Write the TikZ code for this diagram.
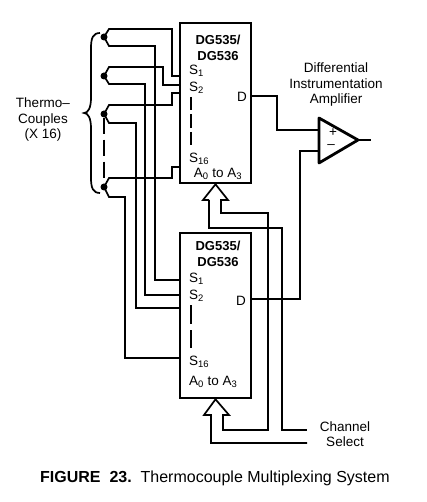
\documentclass[tikz,border=0pt]{standalone}
\usepackage{fontspec}
\setmainfont{Liberation Sans}
\usetikzlibrary{shapes.geometric}
\begin{document}
\begin{tikzpicture}[
    x=1pt, y=-1pt,
    muxbox/.style={rectangle, draw, line width=2.6pt, fill=white,
        minimum width=71pt, inner sep=0pt},
    junction/.style={circle, fill, inner sep=0pt, minimum size=7pt},
    wire/.style={line width=1.7pt, line join=miter},
    pin/.style={font=\fontsize{13.5}{15}\selectfont, anchor=west, inner sep=0pt},
    title/.style={font=\fontsize{13}{15.5}\selectfont\bfseries, align=center, inner sep=0pt},
    label/.style={font=\fontsize{13.5}{15}\selectfont, align=center, inner sep=0pt}
]
    \useasboundingbox (0,0) rectangle (426,502);

    % Multiplexers
    \node[muxbox, minimum height=160pt] (muxa) at (215.5,103) {};
    \node[muxbox, minimum height=165pt] (muxb) at (215.5,315.5) {};

    % Thermocouple junctions
    \node[junction] (tca) at (104,37) {};
    \node[junction] (tcb) at (104,76) {};
    \node[junction] (tcc) at (104,114) {};
    \node[junction] (tcd) at (104,187) {};

    % Inputs of the upper multiplexer
    \coordinate (aone) at (180,76);
    \coordinate (atwo) at (180,85);
    \coordinate (athree) at (180,93);
    \coordinate (asixteen) at (180,167);

    % Inputs of the lower multiplexer
    \coordinate (bone) at (180,280);
    \coordinate (btwo) at (180,295);
    \coordinate (bthree) at (180,308);
    \coordinate (bsixteen) at (180,358);

    % Leads
    \draw[wire] (tca.center) -- (109,29) -| (172,76) -- (aone);
    \draw[wire] (tca.center) -- (109,46) -| (155,280) -- (bone);
    \draw[wire] (tcb.center) -- (109,67) -| (163,85) -- (atwo);
    \draw[wire] (tcb.center) -- (109,84) -| (145,295) -- (btwo);
    \draw[wire] (tcc.center) -- (109,105) -| (172,93) -- (athree);
    \draw[wire] (tcc.center) -- (109,123) -| (136,308) -- (bthree);
    \draw[wire] (tcd.center) -- (109,178) -| (172,167) -- (asixteen);
    \draw[wire] (tcd.center) -- (109,197) -| (125,358) -- (bsixteen);
    \draw[wire, dash pattern=on 16pt off 6pt] (tcc) -- (tcd);

    % Brace
    \draw[wire] (100,33) .. controls (93,33) and (91,38) .. (91,48) -- (91,98)
        .. controls (91,108) and (88,113) .. (84,113)
        .. controls (88,113) and (91,118) .. (91,128) -- (91,178)
        .. controls (91,188) and (93,193) .. (100,193);
    \node[label] (tclabel) at (43,120) {Thermo--\\[1pt]Couples\\[0pt](X 16)};

    % Text of the upper multiplexer
    \node[title] (titlea) at (218,48) {DG535/\\DG536};
    \node[pin] (sonea) at (189,71) {S\textsubscript{1}};
    \node[pin] (stwoa) at (189,88) {S\textsubscript{2}};
    \node[pin] (ssixteena) at (189,159) {S\textsubscript{16}};
    \node[pin, anchor=center] (addra) at (218,174) {A\textsubscript{0} to A\textsubscript{3}};
    \node[pin] (da) at (237,97) {D};
    \coordinate (gapatop) at (191,97);
    \coordinate (gapabot) at (191,145);
    \draw[wire, dash pattern=on 13.5pt off 4pt] (gapatop) -- (gapabot);

    % Text of the lower multiplexer
    \node[title] (titleb) at (218,254) {DG535/\\DG536};
    \node[pin] (soneb) at (189,279) {S\textsubscript{1}};
    \node[pin] (stwob) at (189,296) {S\textsubscript{2}};
    \node[pin] (ssixteenb) at (189,362) {S\textsubscript{16}};
    \node[pin] (addrb) at (189,382) {A\textsubscript{0} to A\textsubscript{3}};
    \node[pin] (db) at (236,301) {D};
    \coordinate (gapbtop) at (191,305);
    \coordinate (gapbbot) at (191,348);
    \draw[wire, dash pattern=on 19pt off 6pt] (gapbtop) -- (gapbbot);

    % Amplifier
    \coordinate (ampp) at (319,130);
    \coordinate (ampm) at (319,151);
    \coordinate (amptip) at (358,140);
    \coordinate (ampout) at (371,140);
    \draw[line width=2.8pt, line join=round] (319,118) -- (amptip) -- (319,163) -- cycle;
    \node[label] (plus) at (333,133) {+};
    \node[label] (minus) at (331,147) {--};
    \node[label] (amplabel) at (336,85) {Differential\\[0.5pt]Instrumentation\\[0.5pt]Amplifier};
    \draw[wire] (amptip) -- (ampout);
    \draw[wire] (muxa.east |- 0,96) -- (277,96) |- (ampp);
    \draw[wire] (muxb.east |- 0,299) -- (300,299) |- (ampm);

    % Channel select
    \coordinate (sela) at (307,430);
    \coordinate (selb) at (307,443);
    \node[label] (sellabel) at (345,434) {Channel\\[-0.5pt]Select};
    \draw[wire] (209,200) -- (203,200) -- (muxa.south) -- (228,200) -- (221,200)
        |- (268,213) |- (223,430) -- (223,415) -- (229,415) -- (muxb.south)
        -- (204,415) -- (211,415) |- (selb);
    \draw[wire] (209,200) |- (282,228) |- (sela);

    % Caption
    \node[font=\fontsize{16}{18}\selectfont, anchor=west, inner sep=0pt] (caption) at (40,478)
        {\textbf{FIGURE\ \ 23.}\ \ Thermocouple Multiplexing System};
\end{tikzpicture}
\end{document}
